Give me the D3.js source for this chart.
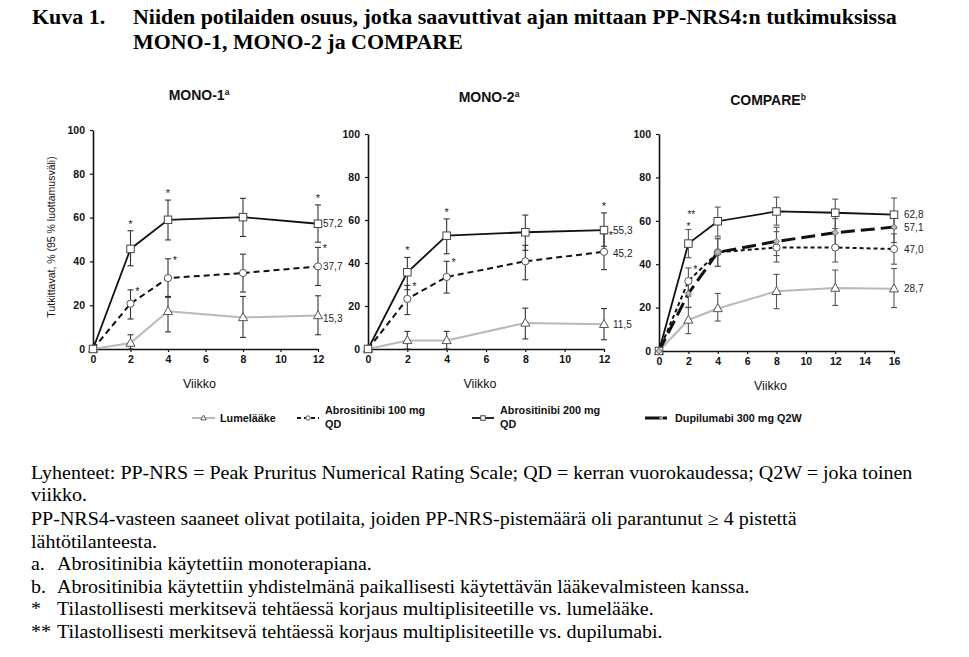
<!DOCTYPE html>
<html><head><meta charset="utf-8">
<script src="https://cdn.jsdelivr.net/npm/d3@7"></script>
<style>body{margin:0;background:#fff}svg{display:block}</style>
</head><body><svg id="c" width="969" height="657"></svg>
<script>
// ---------- DATA ----------
const weeksMono = [0, 2, 4, 8, 12];
const weeksCompare = [0, 2, 4, 8, 12, 16];
const yTicks = [0, 20, 40, 60, 80, 100];
const xTicksMono = [0, 2, 4, 6, 8, 10, 12];
const xTicksCompare = [0, 2, 4, 6, 8, 10, 12, 14, 16];

// MONO-1
const mono1Placebo = [0, 2.7, 17.2, 14.4, 15.3];
const mono1PlaceboLo = [0, 0, 7.8, 5.3, 6.5];
const mono1PlaceboHi = [0, 6.5, 24, 24, 24.3];
const mono1Abro100 = [0, 20.7, 32.4, 34.7, 37.7];
const mono1Abro100Lo = [0, 13.7, 23.6, 26, 29];
const mono1Abro100Hi = [0, 27, 41.2, 43.3, 46.4];
const mono1Abro200 = [0, 45.7, 59, 60.2, 57.2];
const mono1Abro200Lo = [0, 38, 49.8, 51.4, 48.8];
const mono1Abro200Hi = [0, 54, 68, 68.8, 65.8];
const mono1Sig100 = [2, 4, 12];
const mono1Sig200 = [2, 4, 12];
const mono1Labels = ["15,3", "37,7", "57,2"];

// MONO-2
const mono2Placebo = [0, 4.0, 4.0, 12.1, 11.5];
const mono2PlaceboLo = [0, 0, 0, 4.7, 4.3];
const mono2PlaceboHi = [0, 8.2, 8.2, 19, 18.8];
const mono2Abro100 = [0, 23.3, 33.5, 40.8, 45.2];
const mono2Abro100Lo = [0, 16, 26, 32.2, 36.9];
const mono2Abro100Hi = [0, 29.6, 40.8, 48.2, 53.6];
const mono2Abro200 = [0, 35.7, 52.7, 54.3, 55.3];
const mono2Abro200Lo = [0, 27.6, 44.3, 45.9, 47.8];
const mono2Abro200Hi = [0, 42.6, 60.5, 62.3, 63.3];
const mono2Sig100 = [2, 4, 12];
const mono2Sig200 = [2, 4, 12];
const mono2Labels = ["11,5", "45,2", "55,3"];

// COMPARE
const comparePlacebo = [0, 14.3, 19.6, 27.5, 29, 28.7];
const comparePlaceboLo = [0, 8, 13.8, 19.5, 21, 20];
const comparePlaceboHi = [0, 20.2, 26.5, 35.3, 37.3, 38];
const compareAbro100 = [0, 32.2, 45.5, 47.7, 47.7, 47.0];
const compareAbro100Lo = [0, 25.3, 39, 41, 41, 40];
const compareAbro100Hi = [0, 38.3, 51.7, 55, 54.5, 54];
const compareAbro200 = [0, 49.5, 59.8, 64.3, 63.7, 62.8];
const compareAbro200Lo = [0, 43, 52.9, 58, 56.4, 56.4];
const compareAbro200Hi = [0, 56, 66.3, 70.9, 70, 70.5];
const compareDupi = [0, 26.5, 45.5, 50.5, 54.5, 57.1];
const compareDupiLo = [0, 20, 39, 44, 48, 50];
const compareDupiHi = [0, 33, 52, 57, 61, 64];
const compareSig100 = [2];
const compareSig200 = [2];
const compareSig200VsDupi = [2];
const compareLabels = ["28,7", "47,0", "62,8", "57,1"];

const legendLabels = [["Lumelääke"], ["Abrositinibi 100 mg", "QD"], ["Abrositinibi 200 mg", "QD"], ["Dupilumabi 300 mg Q2W"]];
const titleLabel = "Kuva 1.";
const titleLines = ["Niiden potilaiden osuus, jotka saavuttivat ajan mittaan PP-NRS4:n tutkimuksissa", "MONO-1, MONO-2 ja COMPARE"];
const footLines = [
  ["", "Lyhenteet: PP-NRS = Peak Pruritus Numerical Rating Scale; QD = kerran vuorokaudessa; Q2W = joka toinen"],
  ["", "viikko."],
  ["", "PP-NRS4-vasteen saaneet olivat potilaita, joiden PP-NRS-pistemäärä oli parantunut ≥ 4 pistettä"],
  ["", "lähtötilanteesta."],
  ["a.", "Abrositinibia käytettiin monoterapiana."],
  ["b.", "Abrositinibia käytettiin yhdistelmänä paikallisesti käytettävän lääkevalmisteen kanssa."],
  ["*", "Tilastollisesti merkitsevä tehtäessä korjaus multiplisiteetille vs. lumelääke."],
  ["**", "Tilastollisesti merkitsevä tehtäessä korjaus multiplisiteetille vs. dupilumabi."]
];

// ---------- STYLES ----------
const SANS = "'Liberation Sans', Arial, sans-serif";
const SERIF = "'Liberation Serif', 'Times New Roman', serif";
const styles = {
  placebo: {stroke: "#b9b9b9", width: 2, dash: null, marker: "tri"},
  abro100: {stroke: "#111", width: 2, dash: "6,4", marker: "circ"},
  abro100c: {stroke: "#111", width: 2, dash: "4,3", marker: "circ"},
  abro200: {stroke: "#111", width: 1.8, dash: null, marker: "sq"},
  dupi: {stroke: "#111", width: 3, dash: "14,6", marker: "dia"}
};

const svg = d3.select("#c");

function drawMarker(g, type, x, y, scale) {
  const s = scale || 1;
  if (type === "tri") {
    const h = 8 * s, w = 9 * s;
    g.append("path").attr("d", `M${x},${y - h * 0.6}L${x + w / 2},${y + h * 0.4}L${x - w / 2},${y + h * 0.4}Z`)
      .attr("fill", "#fff").attr("stroke", "#555").attr("stroke-width", 1);
  } else if (type === "circ") {
    g.append("circle").attr("cx", x).attr("cy", y).attr("r", 3.6 * s)
      .attr("fill", "#fff").attr("stroke", "#555").attr("stroke-width", 1);
  } else if (type === "sq") {
    const a = 7.5 * s;
    g.append("rect").attr("x", x - a / 2).attr("y", y - a / 2).attr("width", a).attr("height", a)
      .attr("fill", "#fff").attr("stroke", "#444").attr("stroke-width", 1);
  } else if (type === "dia") {
    const a = 3.2 * s;
    g.append("path").attr("d", `M${x},${y - a}L${x + a},${y}L${x},${y + a}L${x - a},${y}Z`)
      .attr("fill", "#bbb").attr("stroke", "#555").attr("stroke-width", 0.8);
  }
}

function panel(cfg) {
  const g = svg.append("g");
  const x = d3.scaleLinear().domain([0, cfg.xMax]).range(cfg.xRange);
  const y = d3.scaleLinear().domain([0, 100]).range(cfg.yRange);

  // axes
  const ya = g.append("g").attr("transform", `translate(${cfg.xRange[0]},0)`)
    .call(d3.axisLeft(y).tickValues(yTicks).tickSize(3).tickSizeOuter(0).tickPadding(5));
  const xa = g.append("g").attr("transform", `translate(0,${cfg.yRange[0]})`)
    .call(d3.axisBottom(x).tickValues(cfg.xTicks).tickSize(3).tickSizeOuter(0).tickPadding(4));
  [ya, xa].forEach(a => {
    a.select(".domain").attr("stroke", "#111").attr("stroke-width", 1.6);
    a.selectAll(".tick line").attr("stroke", "#111").attr("stroke-width", 1.2);
    a.selectAll("text").attr("font-family", SANS).attr("font-weight", "bold").attr("font-size", 10.5).attr("fill", "#111");
  });

  // title
  const t = g.append("text").attr("x", cfg.titleX).attr("y", cfg.titleY).attr("text-anchor", "middle")
    .attr("font-family", SANS).attr("font-weight", "bold").attr("font-size", 14).attr("fill", "#111");
  t.append("tspan").text(cfg.title);
  t.append("tspan").text(cfg.sup).attr("font-size", 8.5).attr("dy", -5);

  g.append("text").attr("x", (cfg.xRange[0] + cfg.xRange[1]) / 2 - 6).attr("y", cfg.yRange[0] + 39)
    .attr("text-anchor", "middle").attr("font-family", SANS).attr("font-size", 12.5).attr("fill", "#111").text("Viikko");

  const line = d3.line().x(d => x(d[0])).y(d => y(d[1]));
  // lines
  cfg.series.forEach(s => {
    const st = styles[s.style];
    g.append("path").datum(cfg.weeks.map((w, i) => [w, s.v[i]]))
      .attr("d", line).attr("fill", "none").attr("stroke", st.stroke).attr("stroke-width", st.width)
      .attr("stroke-dasharray", st.dash);
  });
  // error bars
  cfg.series.forEach(s => {
    cfg.weeks.forEach((w, i) => {
      if (w === 0) return;
      const xx = x(w), y1 = y(s.lo[i]), y2 = y(s.hi[i]);
      g.append("line").attr("x1", xx).attr("x2", xx).attr("y1", y1).attr("y2", y2).attr("stroke", cfg.errColor).attr("stroke-width", 1.1);
      [y1, y2].forEach(yy => g.append("line").attr("x1", xx - 3).attr("x2", xx + 3).attr("y1", yy).attr("y2", yy)
        .attr("stroke", cfg.errColor).attr("stroke-width", 1.1));
    });
  });
  // markers
  cfg.series.forEach(s => {
    const st = styles[s.style];
    cfg.weeks.forEach((w, i) => drawMarker(g, st.marker, x(w), y(s.v[i])));
  });
  // final labels
  cfg.series.forEach((s, k) => {
    const n = s.v.length - 1;
    g.append("text").attr("x", x(cfg.weeks[n]) + cfg.labelDx).attr("y", y(s.v[n]) + 3.5 + (s.labelDy || 0))
      .attr("font-family", SANS).attr("font-size", 10).attr("fill", "#222").text(cfg.labels[k]);
  });
  // significance markers
  cfg.series.forEach(s => {
    (s.sig || []).forEach(w => {
      const i = cfg.weeks.indexOf(w);
      const mk = (xx, yy, str, fs) => g.append("text").attr("text-anchor", "middle").attr("x", xx).attr("y", yy)
        .attr("font-family", SANS).attr("font-size", fs || 11).attr("fill", "#222").text(str);
      if (s.sigSide) {
        mk(x(w) + 7, y(s.hi[i]) + 5, "*");
      } else if ((s.sig2 || []).includes(w)) {
        // "*" (vs. lumelääke) with "**" (vs. dupilumabi) stacked above it
        mk(x(w), y(s.hi[i]) + 1, "*", 10);
        mk(x(w) + 3, y(s.hi[i]) - 11, "**", 10);
      } else {
        mk(x(w), y(s.hi[i]) - 3, "*");
      }
    });
  });
  return g;
}

panel({
  title: "MONO-1", sup: "a", titleX: 199, titleY: 100, xMax: 12, xRange: [93, 318], yRange: [349, 130],
  xTicks: xTicksMono, weeks: weeksMono, errColor: "#333", labelDx: 5, labels: mono1Labels,
  series: [
    {style: "placebo", v: mono1Placebo, lo: mono1PlaceboLo, hi: mono1PlaceboHi, labelDy: 3},
    {style: "abro100", v: mono1Abro100, lo: mono1Abro100Lo, hi: mono1Abro100Hi, sig: mono1Sig100, sigSide: true},
    {style: "abro200", v: mono1Abro200, lo: mono1Abro200Lo, hi: mono1Abro200Hi, sig: mono1Sig200}
  ]
});
panel({
  title: "MONO-2", sup: "a", titleX: 489, titleY: 102, xMax: 12, xRange: [368, 604], yRange: [349, 134],
  xTicks: xTicksMono, weeks: weeksMono, errColor: "#333", labelDx: 9, labels: mono2Labels,
  series: [
    {style: "placebo", v: mono2Placebo, lo: mono2PlaceboLo, hi: mono2PlaceboHi},
    {style: "abro100", v: mono2Abro100, lo: mono2Abro100Lo, hi: mono2Abro100Hi, sig: mono2Sig100, sigSide: true, labelDy: 2},
    {style: "abro200", v: mono2Abro200, lo: mono2Abro200Lo, hi: mono2Abro200Hi, sig: mono2Sig200}
  ]
});
panel({
  title: "COMPARE", sup: "b", titleX: 768, titleY: 105, xMax: 16, xRange: [659, 894], yRange: [351, 134],
  xTicks: xTicksCompare, weeks: weeksCompare, errColor: "#555", labelDx: 10, labels: compareLabels,
  series: [
    {style: "placebo", v: comparePlacebo, lo: comparePlaceboLo, hi: comparePlaceboHi},
    {style: "abro100c", v: compareAbro100, lo: compareAbro100Lo, hi: compareAbro100Hi, sig: compareSig100, sigSide: true},
    {style: "abro200", v: compareAbro200, lo: compareAbro200Lo, hi: compareAbro200Hi, sig: compareSig200, sig2: compareSig200VsDupi},
    {style: "dupi", v: compareDupi, lo: compareDupiLo, hi: compareDupiHi}
  ]
});

// y-axis title
svg.append("text").attr("transform", "translate(55,237) rotate(-90)").attr("text-anchor", "middle")
  .attr("font-family", SANS).attr("font-size", 10.5).attr("fill", "#111").text("Tutkittavat, % (95 % luottamusväli)");

// legend
const legendItems = [
  {style: "placebo", x0: 192, x1: 215, tx: 220},
  {style: "abro100", x0: 297, x1: 319, tx: 325},
  {style: "abro200", x0: 472, x1: 494, tx: 500},
  {style: "dupi", x0: 645, x1: 669, tx: 675}
];
const lg = svg.append("g");
legendItems.forEach((it, k) => {
  const st = styles[it.style];
  const ly = 418;
  lg.append("line").attr("x1", it.x0).attr("x2", it.x1).attr("y1", ly).attr("y2", ly)
    .attr("stroke", st.stroke).attr("stroke-width", st.width)
    .attr("stroke-dasharray", it.style === "dupi" ? "15,3,4" : (it.style === "abro100" ? "4,3" : null));
  drawMarker(lg, st.marker, (it.x0 + it.x1) / 2 + (it.style === "dupi" ? 4 : 0), ly, 0.6);
  const lines = legendLabels[k];
  lines.forEach((l, j) => {
    lg.append("text").attr("x", it.tx).attr("y", lines.length === 1 ? ly + 4 : 414 + j * 14)
      .attr("font-family", SANS).attr("font-weight", "bold").attr("font-size", 10.8).attr("fill", "#111").text(l);
  });
});

// title (condensed serif)
const tg = svg.append("g");
tg.append("text").attr("x", 0).attr("y", 24).attr("font-family", SERIF).attr("font-weight", "bold").attr("font-size", 21).attr("fill", "#000").text(titleLabel);
const tRows = titleLines.map((l, i) => tg.append("text").attr("y", 24 + i * 25).attr("font-family", SERIF)
  .attr("font-weight", "bold").attr("font-size", 21).attr("fill", "#000").text(l));
const tScale = 764 / tRows[0].node().getComputedTextLength();
tRows.forEach(r => r.attr("x", (133 - 32) / tScale));
tg.attr("transform", `translate(32,0) scale(${tScale},1)`);

// footnotes (condensed serif)
const fg = svg.append("g");
const fBase = [479, 501, 525, 548, 570, 593, 615, 638];
const fRows = footLines.map((l, i) => {
  if (l[0]) fg.append("text").attr("x", 0).attr("y", fBase[i]).attr("font-family", SERIF).attr("font-size", 18).attr("fill", "#000").text(l[0]);
  return fg.append("text").attr("y", fBase[i]).attr("font-family", SERIF).attr("font-size", 18).attr("fill", "#000").text(l[1]);
});
const fScale = 882 / fRows[0].node().getComputedTextLength();
fRows.forEach((r, i) => r.attr("x", footLines[i][0] ? (57 - 31) / fScale : 0));
fg.attr("transform", `translate(31,0) scale(${fScale},1)`);
</script>
</body></html>
